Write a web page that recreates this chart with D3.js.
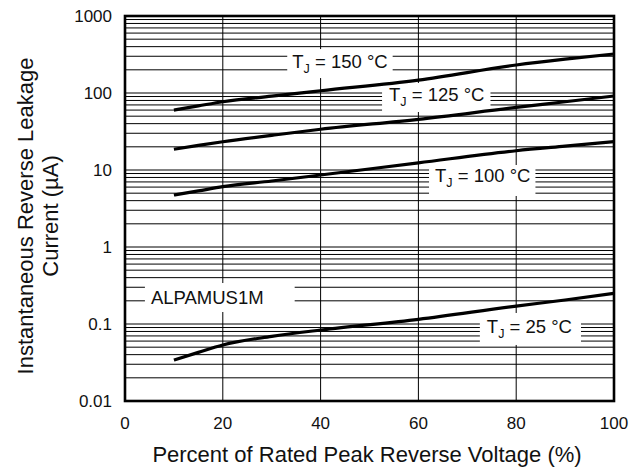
<!DOCTYPE html>
<html>
<head>
<meta charset="utf-8">
<script src="https://cdn.jsdelivr.net/npm/d3@7"></script>
<style>
  body { margin: 0; background: #fff; }
  svg { display: block; font-family: "Liberation Sans", Arial, sans-serif; }
</style>
</head>
<body>
<svg id="chart" width="644" height="468"></svg>
<script>
// percent of rated peak reverse voltage
var voltage = [10, 15, 20, 30, 40, 60, 80, 90, 100];

// leakage current (uA) per junction temperature
var tj150 = [60, 68, 77, 91, 107, 147, 231, 275, 321];
var tj125 = [18.6, 20.9, 23.3, 28.2, 33.8, 45.5, 65, 77, 91.4];
var tj100 = [4.73, 5.35, 6.07, 7.2, 8.61, 12.4, 17.8, 20.4, 23.3];
var tj25  = [0.034, 0.0428, 0.0534, 0.069, 0.0836, 0.115, 0.171, 0.205, 0.25];

var xTicks = [0, 20, 40, 60, 80, 100];
var yTicks = [0.01, 0.1, 1, 10, 100, 1000];
var yTickLabels = ["0.01", "0.1", "1", "10", "100", "1000"];

var seriesList = [tj150, tj125, tj100, tj25];

// labels on the plot: temperature + part number
var labels = [
  { main: "T", sub: "J", rest: " = 150 °C", x: 34.2, y: 260, padL: 5, padR: 5, padT: 12, padB: 17 },
  { main: "T", sub: "J", rest: " = 125 °C", x: 54, y: 94.2, padL: 7, padR: 6, padT: 12, padB: 17 },
  { main: "T", sub: "J", rest: " = 100 °C", x: 63.4, y: 8.36, padL: 6, padR: 5, padT: 11, padB: 20 },
  { main: "T", sub: "J", rest: " = 25 °C", x: 74, y: 0.0915, padL: 7, padR: 9, padT: 14, padB: 18 },
  { main: "ALPAMUS1M", sub: "", rest: "", x: 5.3, y: 0.2175, padL: 6, padR: 31, padT: 15, padB: 14 }
];

var plotL = 125, plotR = 614, plotT = 16, plotB = 401;

var svg = d3.select("#chart");

var x = d3.scaleLinear().domain([0, 100]).range([plotL, plotR]);
var y = d3.scaleLog().domain([0.01, 1000]).range([plotB, plotT]);

var grid = svg.append("g");

// minor + major horizontal lines
var hLines = [];
for (var d = 0.01; d < 999; d *= 10) {
  for (var k = 1; k <= 9; k++) hLines.push(+(k * d).toPrecision(3));
}
grid.selectAll(".hline")
  .data(hLines)
  .enter()
  .append("line")
  .attr("class", "hline")
  .attr("x1", plotL).attr("x2", plotR)
  .attr("y1", v => y(v)).attr("y2", v => y(v))
  .attr("stroke", "#000")
  .attr("stroke-width", 1);

grid.selectAll(".vline")
  .data(xTicks.slice(1, -1))
  .enter()
  .append("line")
  .attr("class", "vline")
  .attr("x1", v => x(v)).attr("x2", v => x(v))
  .attr("y1", plotT).attr("y2", plotB)
  .attr("stroke", "#000")
  .attr("stroke-width", 1);

// label boxes (white, cut the grid), then curves, then texts
var boxG = svg.append("g");
var curveG = svg.append("g");
var textG = svg.append("g");

labels.forEach(function (lb) {
  var t = textG.append("text")
    .attr("x", x(lb.x))
    .attr("y", y(lb.y))
    .attr("dy", "0.35em")
    .attr("font-size", 18.5)
    .attr("fill", "#111");
  t.append("tspan").text(lb.main);
  if (lb.sub) {
    t.append("tspan").text(lb.sub).attr("font-size", 12.5).attr("dy", 5);
    t.append("tspan").text(lb.rest).attr("dy", -5);
  }
  var bb = t.node().getBBox();
  boxG.append("rect")
    .attr("x", x(lb.x) - lb.padL)
    .attr("y", y(lb.y) - lb.padT)
    .attr("width", bb.width + lb.padL + lb.padR)
    .attr("height", lb.padT + lb.padB)
    .attr("fill", "#fff");
});

// curves
var line = d3.line()
  .x((v, i) => x(voltage[i]))
  .y(v => y(v))
  .curve(d3.curveMonotoneX);

curveG.selectAll("path")
  .data(seriesList)
  .enter()
  .append("path")
  .attr("d", line)
  .attr("fill", "none")
  .attr("stroke", "#000")
  .attr("stroke-width", 3.2);

// frame
svg.append("rect")
  .attr("x", plotL).attr("y", plotT)
  .attr("width", plotR - plotL).attr("height", plotB - plotT)
  .attr("fill", "none")
  .attr("stroke", "#000")
  .attr("stroke-width", 2.6);

// tick labels
svg.append("g").selectAll("text")
  .data(xTicks)
  .enter()
  .append("text")
  .attr("x", v => x(v))
  .attr("y", 429)
  .attr("text-anchor", "middle")
  .attr("font-size", 17)
  .attr("fill", "#111")
  .text(v => v);

svg.append("g").selectAll("text")
  .data(yTicks)
  .enter()
  .append("text")
  .attr("x", 112)
  .attr("y", v => y(v))
  .attr("dy", "0.35em")
  .attr("text-anchor", "end")
  .attr("font-size", 17)
  .attr("fill", "#111")
  .text((v, i) => yTickLabels[i]);

// axis titles
svg.append("text")
  .attr("x", 367)
  .attr("y", 462)
  .attr("text-anchor", "middle")
  .attr("font-size", 22)
  .attr("fill", "#111")
  .text("Percent of Rated Peak Reverse Voltage (%)");

var yt = svg.append("text")
  .attr("transform", "translate(33,216) rotate(-90)")
  .attr("text-anchor", "middle")
  .attr("font-size", 22)
  .attr("fill", "#111");
yt.append("tspan").attr("x", 0).attr("dy", 0).text("Instantaneous Reverse Leakage");
yt.append("tspan").attr("x", 0).attr("dy", 25).text("Current (µA)");
</script>
</body>
</html>
